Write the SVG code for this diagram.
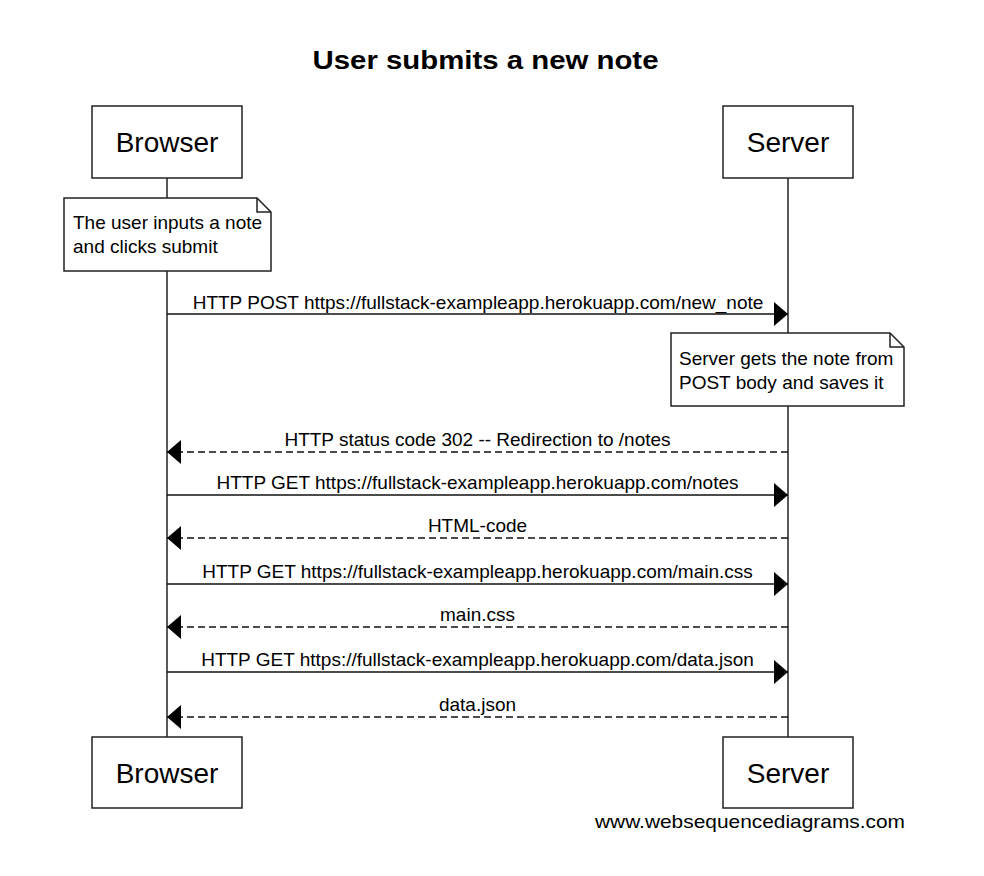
<svg xmlns="http://www.w3.org/2000/svg" width="984" height="876" viewBox="0 0 984 876">
<style>
text{font-family:"Liberation Sans",Arial,sans-serif;fill:#000}
.title{font-size:26px;font-weight:bold}
.actor{font-size:28px}
.lbl{font-size:19px}
.box{fill:#fff;stroke:#222;stroke-width:1.5}
.life{stroke:#222;stroke-width:1.5}
.msg{stroke:#111;stroke-width:1.5;fill:none}
.ret{stroke:#111;stroke-width:1.5;fill:none;stroke-dasharray:7 4}
</style>
<defs>
<marker id="ah" markerUnits="userSpaceOnUse" markerWidth="15" markerHeight="26" refX="14" refY="12.5" orient="auto">
<path d="M0,0.5 L14,12.5 L0,24.5 z" fill="#000"/>
</marker>
</defs>
<rect width="984" height="876" fill="#fff"/>
<text class="title" x="485.5" y="69" text-anchor="middle" textLength="346" lengthAdjust="spacingAndGlyphs">User submits a new note</text>

<g id="lifelines">
<line class="life" x1="167" y1="178" x2="167" y2="737"/>
<line class="life" x1="788" y1="178" x2="788" y2="737"/>
</g>

<g id="browser-top"><rect class="box" x="92" y="106" width="150" height="72"/><text class="actor" x="167" y="152" text-anchor="middle">Browser</text></g>
<g id="server-top"><rect class="box" x="723" y="106" width="130" height="72"/><text class="actor" x="788" y="152" text-anchor="middle">Server</text></g>
<g id="browser-bottom"><rect class="box" x="92" y="737" width="150" height="71"/><text class="actor" x="167" y="783" text-anchor="middle">Browser</text></g>
<g id="server-bottom"><rect class="box" x="723" y="737" width="130" height="71"/><text class="actor" x="788" y="783" text-anchor="middle">Server</text></g>

<g id="note1">
<path class="box" d="M64,198 H257 L271,212 V271 H64 Z"/>
<path d="M257,198 V212 H271" fill="none" stroke="#222" stroke-width="1.5"/>
<text class="lbl" x="73" y="229">The user inputs a note</text>
<text class="lbl" x="73" y="253">and clicks submit</text>
</g>

<g id="connectors">
<line class="msg" x1="167" y1="314" x2="788" y2="314" marker-end="url(#ah)"/>
<text class="lbl" x="478" y="309" text-anchor="middle">HTTP POST https://fullstack-exampleapp.herokuapp.com/new_note</text>
<line class="ret" x1="788" y1="452" x2="167" y2="452" marker-end="url(#ah)"/>
<text class="lbl" x="477.5" y="446" text-anchor="middle">HTTP status code 302 -- Redirection to /notes</text>
<line class="msg" x1="167" y1="495" x2="788" y2="495" marker-end="url(#ah)"/>
<text class="lbl" x="477.5" y="489" text-anchor="middle">HTTP GET https://fullstack-exampleapp.herokuapp.com/notes</text>
<line class="ret" x1="788" y1="538" x2="167" y2="538" marker-end="url(#ah)"/>
<text class="lbl" x="477.5" y="532" text-anchor="middle">HTML-code</text>
<line class="msg" x1="167" y1="584" x2="788" y2="584" marker-end="url(#ah)"/>
<text class="lbl" x="477.5" y="578" text-anchor="middle">HTTP GET https://fullstack-exampleapp.herokuapp.com/main.css</text>
<line class="ret" x1="788" y1="627" x2="167" y2="627" marker-end="url(#ah)"/>
<text class="lbl" x="477.5" y="621" text-anchor="middle">main.css</text>
<line class="msg" x1="167" y1="672" x2="788" y2="672" marker-end="url(#ah)"/>
<text class="lbl" x="477.5" y="666" text-anchor="middle">HTTP GET https://fullstack-exampleapp.herokuapp.com/data.json</text>
<line class="ret" x1="788" y1="717" x2="167" y2="717" marker-end="url(#ah)"/>
<text class="lbl" x="477.5" y="711" text-anchor="middle">data.json</text>
</g>

<g id="note2">
<path class="box" d="M671,333 H890 L904,347 V406 H671 Z"/>
<path d="M890,333 V347 H904" fill="none" stroke="#222" stroke-width="1.5"/>
<text class="lbl" x="679" y="365">Server gets the note from</text>
<text class="lbl" x="679" y="389">POST body and saves it</text>
</g>

<text class="lbl" x="595" y="828" textLength="310" lengthAdjust="spacingAndGlyphs">www.websequencediagrams.com</text>
</svg>
